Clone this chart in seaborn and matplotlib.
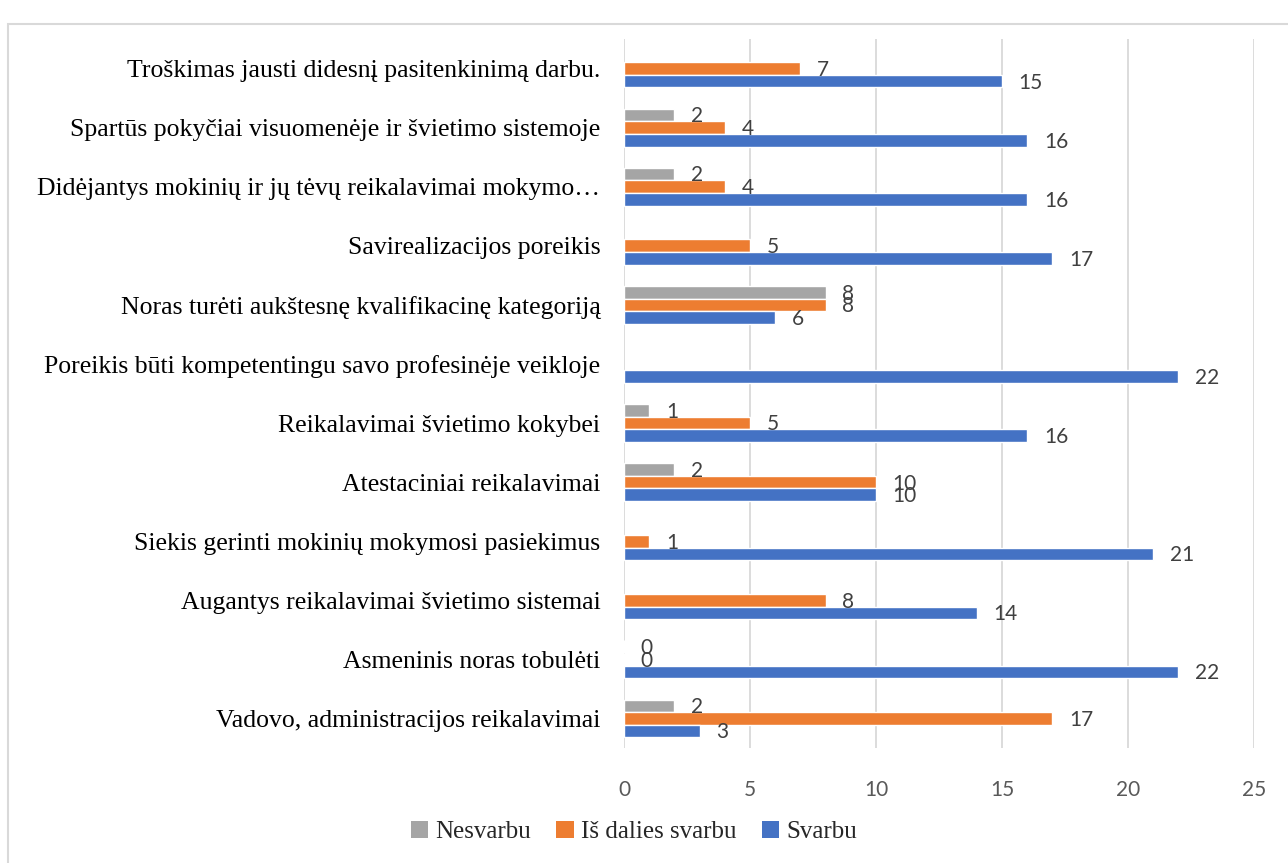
import numpy as np
import pandas as pd
import matplotlib
matplotlib.use("Agg")
import matplotlib.pyplot as plt
from matplotlib.patches import Rectangle, Patch
import seaborn as sns

# Survey reasons (top to bottom as displayed)
categories = [
    "Troškimas jausti didesnį pasitenkinimą darbu.",
    "Spartūs pokyčiai visuomenėje ir švietimo sistemoje",
    "Didėjantys mokinių ir jų tėvų reikalavimai mokymo…",
    "Savirealizacijos poreikis",
    "Noras turėti aukštesnę kvalifikacinę kategoriją",
    "Poreikis būti kompetentingu savo profesinėje veikloje",
    "Reikalavimai švietimo kokybei",
    "Atestaciniai reikalavimai",
    "Siekis gerinti mokinių mokymosi pasiekimus",
    "Augantys reikalavimai švietimo sistemai",
    "Asmeninis noras tobulėti",
    "Vadovo, administracijos reikalavimai",
]

series_names = ["Nesvarbu", "Iš dalies svarbu", "Svarbu"]
nesvarbu = [np.nan, 2, 2, np.nan, 8, np.nan, 1, 2, np.nan, np.nan, 0, 2]
is_dalies = [7, 4, 4, 5, 8, np.nan, 5, 10, 1, 8, 0, 17]
svarbu = [15, 16, 16, 17, 6, 22, 16, 10, 21, 14, 22, 3]

x_ticks = [0, 5, 10, 15, 20, 25]
colors = ["#A5A5A5", "#ED7D31", "#4472C4"]

rows = []
for name, vals in zip(series_names, [nesvarbu, is_dalies, svarbu]):
    for cat, v in zip(categories, vals):
        rows.append({"Kategorija": cat, "Reikšmė": v, "Serija": name})
df = pd.DataFrame(rows).dropna(subset=["Reikšmė"])

sns.set_theme(style="white")
plt.rcParams["font.family"] = ["DejaVu Sans"]

fig = plt.figure(figsize=(12.88, 8.63), dpi=100)
ax = fig.add_axes([624 / 1288, 1 - 748 / 863, (1254 - 624) / 1288, (748 - 39) / 863])

sns.barplot(
    data=df, x="Reikšmė", y="Kategorija", hue="Serija",
    order=categories, hue_order=series_names, palette=colors,
    orient="h", width=0.64, ax=ax, legend=False, saturation=1,
    errorbar=None,
)

ax.set_xlim(0, 25)
ax.set_xticks(x_ticks)
ax.set_xticklabels([str(t) for t in x_ticks], fontsize=15, color="#595959",
                   family="Lato")
ax.set_xlabel("")
ax.set_ylabel("")
ax.tick_params(axis="x", length=0, pad=23)
ax.tick_params(axis="y", length=0, pad=17)
for lab in ax.get_yticklabels():
    lab.set_family("Liberation Serif")
    lab.set_fontsize(18.5)
    lab.set_color("black")

for s in ax.spines.values():
    s.set_visible(False)
ax.grid(axis="x", color="#D9D9D9", linewidth=1.3)
ax.set_axisbelow(True)

# Value labels to the right of each bar
for bar in ax.patches:
    w = bar.get_width()
    if np.isnan(w):
        continue
    yc = bar.get_y() + bar.get_height() / 2
    ax.annotate(f"{w:g}", xy=(w, yc), xytext=(12, -1), textcoords="offset points",
                ha="left", va="center", fontsize=15, color="#404040",
                family="Lato", annotation_clip=False)

handles = [Patch(facecolor=c, edgecolor="none") for c in colors]
fig.legend(handles, series_names, loc="center", bbox_to_anchor=(634 / 1288, 1 - 832 / 863),
           ncol=3, frameon=False, prop={"family": "Liberation Serif", "size": 18},
           handlelength=0.7, handleheight=0.7, handletextpad=0.3, columnspacing=1.0)

# Chart frame
fig.patches.append(Rectangle((8 / 1288, -0.05), 1.1, 1 - 24 / 863 + 0.05,
                             transform=fig.transFigure, fill=False,
                             edgecolor="#D9D9D9", linewidth=1.5))

fig.savefig("out.png", dpi=100, facecolor="white")
